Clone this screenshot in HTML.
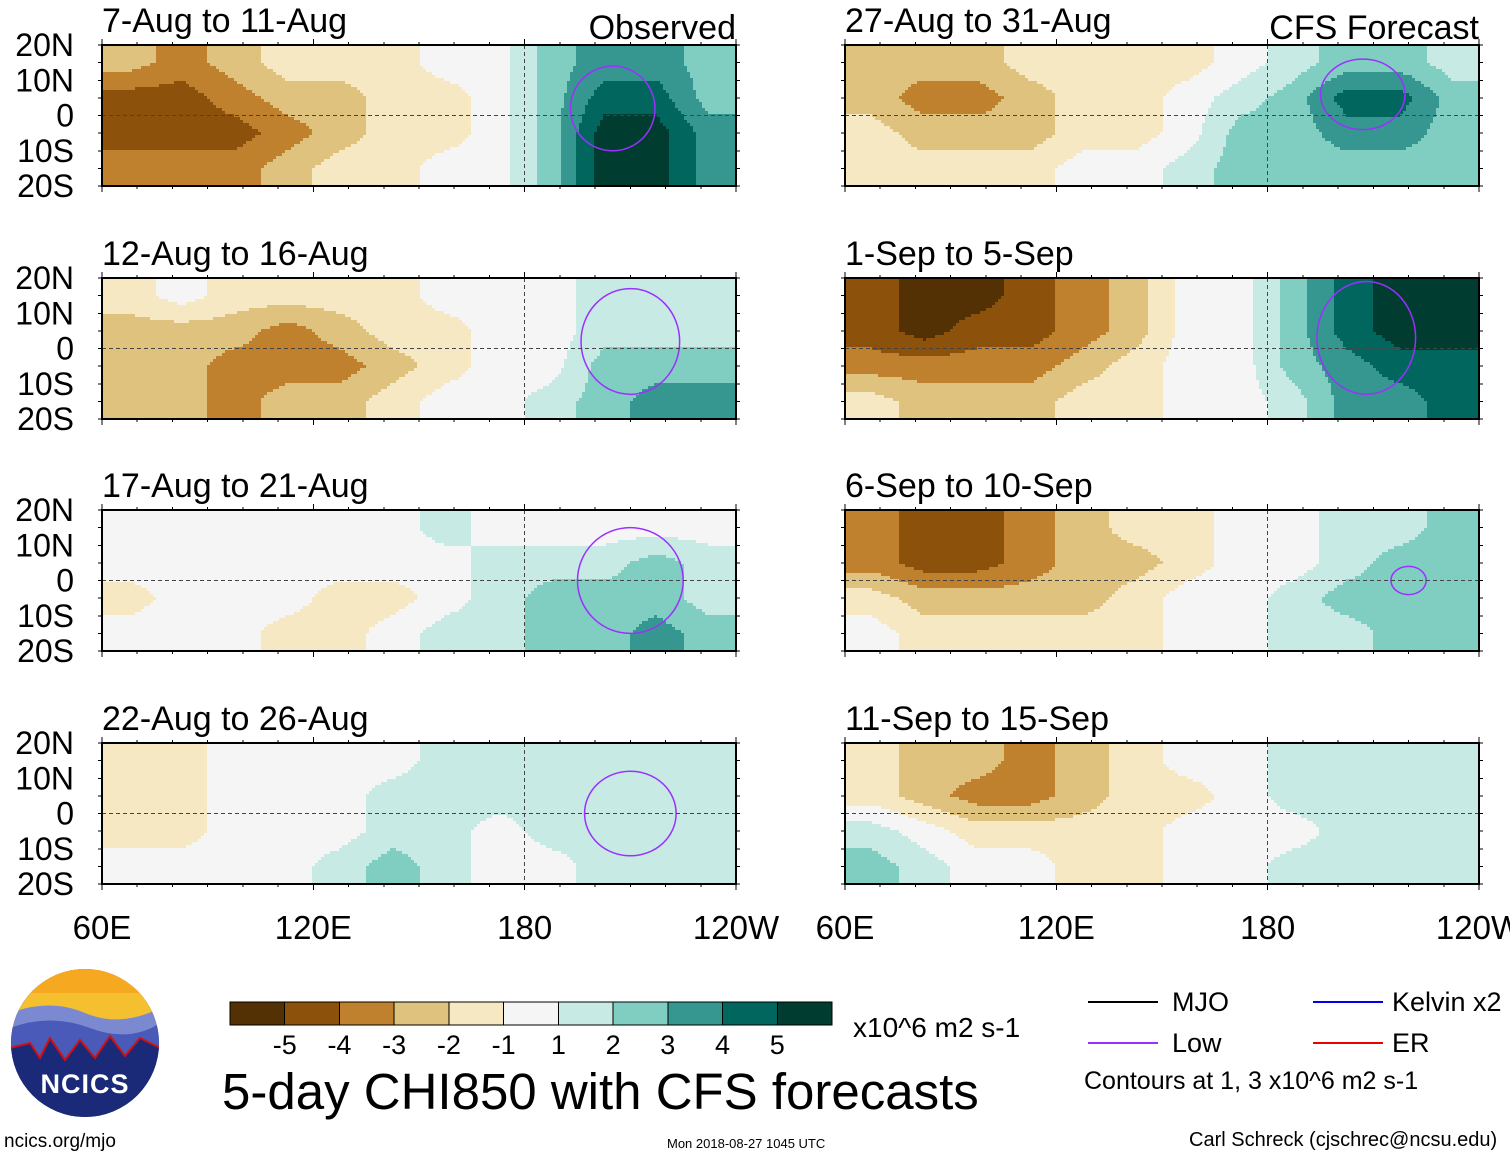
<!DOCTYPE html>
<html><head><meta charset="utf-8"><style>
html,body{margin:0;padding:0;background:#fff;}
svg{display:block;font-family:"Liberation Sans",sans-serif;}
</style></head><body>
<svg id="s" width="1510" height="1158" viewBox="0 0 1510 1158" shape-rendering="crispEdges">
</svg>
<script>
const titles=["7-Aug to 11-Aug","12-Aug to 16-Aug","17-Aug to 21-Aug","22-Aug to 26-Aug","27-Aug to 31-Aug","1-Sep to 5-Sep","6-Sep to 10-Sep","11-Sep to 15-Sep"];
const levels=[-5,-4,-3,-2,-1,0,1,2,3,4,5];
const levelLabels=["-5","-4","-3","-2","-1","1","2","3","4","5"];
const latLabels=["20N","10N","0","10S","20S"];
const lonLabels=["60E","120E","180","120W"];
// each panel: 4 lat bands (20N..20S) x 12 lon bands (15 deg from 60E)
const p0=[[-2,-3,-2,-1,-1,-1,0,0,2,3,3,2],[-4,-4,-3,-2,-2,-1,-1,0,2,4,4,2],[-4,-4,-4,-3,-2,-1,-1,0,2,5,5,3],[-3,-3,-3,-2,-1,-1,0,0,2,5,5,3]];
const p1=[[-1,0,-1,-1,-1,-1,0,0,0,1,1,1],[-2,-2,-2,-3,-2,-1,-1,0,0,1,1,1],[-2,-2,-3,-3,-3,-2,-1,0,0,2,2,2],[-2,-2,-3,-2,-2,-1,0,0,1,2,3,3]];
const p2=[[0,0,0,0,0,0,1,0,0,0,0,0],[0,0,0,0,0,0,0,1,1,1,2,1],[-1,0,0,0,-1,-1,0,1,2,2,2,1],[0,0,0,-1,-1,0,1,1,2,2,3,2]];
const p3=[[-1,-1,0,0,0,0,1,1,1,1,1,1],[-1,-1,0,0,0,1,1,1,1,1,1,1],[-1,-1,0,0,0,1,1,0,1,1,1,1],[0,0,0,0,1,2,1,0,0,1,1,1]];
const p4=[[-2,-2,-2,-1,-1,-1,-1,0,1,2,2,1],[-2,-3,-3,-2,-1,-1,0,1,2,4,4,2],[-1,-2,-2,-2,-1,-1,0,2,2,3,3,2],[-1,-1,-1,-1,0,0,1,2,2,2,2,2]];
const p5=[[-4,-5,-5,-4,-3,-2,0,0,2,4,5,5],[-4,-5,-4,-4,-3,-2,0,0,2,4,5,5],[-3,-3,-3,-3,-2,-1,0,0,2,3,4,4],[-1,-2,-2,-2,-1,-1,0,0,1,3,3,4]];
const p6=[[-3,-4,-4,-3,-2,-1,-1,0,0,1,1,2],[-3,-4,-4,-3,-2,-2,-1,0,0,1,2,2],[-1,-2,-2,-2,-2,-1,0,0,1,2,2,2],[0,-1,-1,-1,-1,-1,0,0,1,1,2,2]];
const p7=[[-1,-2,-2,-3,-2,-1,0,0,1,1,1,1],[-1,-2,-3,-3,-2,-1,-1,0,1,1,1,1],[1,0,-1,-1,-1,-1,0,0,0,1,1,1],[2,1,0,0,-1,-1,0,0,1,1,1,1]];
const panels=[p0,p1,p2,p3,p4,p5,p6,p7];
// Low contours: [lonCenter(E), latCenter, lonRadius, latRadius]
const lowContours=[[205,2,12,12],[210,2,14,15],[210,0,15,15],[210,0,13,12],[207,6,12,10],[208,3,14,16],[220,0,5,4],[0,0,0,0]];
const colors=["#543005","#8c510a","#bf812d","#dfc27d","#f6e8c3","#f5f5f5","#c7eae5","#80cdc1","#35978f","#01665e","#003c30"];
const NS="http://www.w3.org/2000/svg";
const svg=document.getElementById('s');
function mk(tag,attrs,parent){const e=document.createElementNS(NS,tag);for(const k in attrs)e.setAttribute(k,attrs[k]);(parent||svg).appendChild(e);return e;}
function idxFor(v){return Math.max(0,Math.min(10,Math.round(v)+5));}
function sample(d,lon,lat){
  let fc=(lon-67.5)/15, fr=(15-lat)/10;
  fc=Math.max(0,Math.min(11,fc)); fr=Math.max(0,Math.min(3,fr));
  const c0=Math.min(10,Math.floor(fc)), r0=Math.min(2,Math.floor(fr));
  const tc=fc-c0, tr=fr-r0;
  const a=d[r0][c0]*(1-tc)+d[r0][c0+1]*tc, b=d[r0+1][c0]*(1-tc)+d[r0+1][c0+1]*tc;
  return a*(1-tr)+b*tr;
}
const colX=[102,845], rowY=[45,278,510,743], PW=634, PH=141, ST=3;
panels.forEach((d,pi)=>{
  const x0=colX[Math.floor(pi/4)], y0=rowY[pi%4];
  const lonX=lon=>x0+(lon-60)/180*PW;
  const latY=lat=>y0+(20-lat)/40*PH;
  const g=mk('g',{});
  
  
  const fg=mk('g',{},g);
  for(let py=0;py<PH;py+=ST){
    const lat=20-(py+ST/2)/PH*40; let start=0, cur=-1;
    const xs=[];for(let px=0;px<PW;px+=ST)xs.push(px);xs.push(PW);
    xs.forEach(px=>{
      const k=px<PW?idxFor(sample(d,60+(px+ST/2)/PW*180,lat)):-2;
      if(k!==cur){
        if(cur>=0){const r=mk('rect',{x:x0+start,y:y0+py,width:px-start,height:Math.min(ST,PH-py),fill:colors[cur]},fg);
          
          }
        start=px;cur=k;
      }
    });
  }
  const lc=lowContours[pi];
  if(lc[2]>0){const el=mk('ellipse',{cx:lonX(lc[0]),cy:latY(lc[1]),rx:lc[2]/180*PW,ry:lc[3]/40*PH,fill:'none',stroke:'#9b30ff','stroke-width':1.5,'shape-rendering':'auto'},fg);
    
    }
  mk('line',{x1:x0,x2:x0+PW,y1:latY(0),y2:latY(0),stroke:'#444','stroke-dasharray':'4,3','stroke-width':1},fg);
  mk('line',{x1:lonX(180),x2:lonX(180),y1:y0,y2:y0+PH,stroke:'#444','stroke-dasharray':'4,3','stroke-width':1},fg);
  mk('rect',{x:x0,y:y0,width:PW,height:PH,fill:'none',stroke:'#000','stroke-width':2},g);
  for(let lon=60;lon<=240;lon+=10){const tx=lonX(lon),L=(lon%60==0)?6:3;
    mk('line',{x1:tx,x2:tx,y1:y0,y2:y0-L,stroke:'#000'},g);mk('line',{x1:tx,x2:tx,y1:y0+PH,y2:y0+PH+L,stroke:'#000'},g);}
  for(let lat=-20;lat<=20;lat+=5){const ty=latY(lat);
    mk('line',{x1:x0,x2:x0-4,y1:ty,y2:ty,stroke:'#000'},g);mk('line',{x1:x0+PW,x2:x0+PW+4,y1:ty,y2:ty,stroke:'#000'},g);}
  const t=mk('text',{x:x0,y:y0-13,'font-size':34},g);t.textContent=titles[pi];
  
  
  if(pi%4==0){const o=mk('text',{x:x0+PW,y:y0-6,'font-size':34,'text-anchor':'end'},g);o.textContent=pi==0?'Observed':'CFS Forecast';
    
    }
  if(pi<4){latLabels.forEach((l,i)=>{const tt=mk('text',{x:74,y:latY(20-i*10)+11,'font-size':32,'text-anchor':'end'},g);tt.textContent=l;
    
    });}
  if(pi%4==3){lonLabels.forEach((l,i)=>{const tt=mk('text',{x:lonX(60+i*60),y:y0+PH+55,'font-size':33,'text-anchor':'middle'},g);tt.textContent=l;
    
    });}
});
const cb=mk('g',{});


const bw=602/11;
colors.forEach((c,i)=>mk('rect',{x:230+i*bw,y:1002,width:bw,height:23,fill:c,stroke:'#000','stroke-width':1},cb));
levelLabels.forEach((l,i)=>{const t=mk('text',{x:230+(i+1)*bw,y:1054,'font-size':27,'text-anchor':'middle'},cb);t.textContent=l;});
</script>
<div style="position:absolute;left:0;top:0;width:1510px;height:1158px;pointer-events:none;font-family:'Liberation Sans',sans-serif;">
<div style="position:absolute;left:853px;top:1012px;font-size:28px;">x10^6 m2 s-1</div>
<div style="position:absolute;left:222px;top:1062px;font-size:51px;">5-day CHI850 with CFS forecasts</div>
<div>
<div style="position:absolute;left:1088px;top:1001px;width:70px;border-top:2px solid #000"></div>
<div style="position:absolute;left:1172px;top:987px;font-size:27px;">MJO</div>
<div style="position:absolute;left:1088px;top:1042px;width:70px;border-top:2px solid #9b30ff"></div>
<div style="position:absolute;left:1172px;top:1028px;font-size:27px;">Low</div>
<div style="position:absolute;left:1313px;top:1001px;width:70px;border-top:2px solid #0000ee"></div>
<div style="position:absolute;left:1392px;top:987px;font-size:27px;">Kelvin x2</div>
<div style="position:absolute;left:1313px;top:1042px;width:70px;border-top:2px solid #ee0000"></div>
<div style="position:absolute;left:1392px;top:1028px;font-size:27px;">ER</div>
<div style="position:absolute;left:1084px;top:1067px;font-size:25px;">Contours at 1, 3 x10^6 m2 s-1</div>
</div>
<div style="position:absolute;left:4px;top:1131px;font-size:19px;">ncics.org/mjo</div>
<div style="position:absolute;left:667px;top:1136px;font-size:13px;">Mon 2018-08-27 1045 UTC</div>
<div style="position:absolute;left:1189px;top:1129px;font-size:20px;white-space:nowrap;">Carl Schreck (cjschrec@ncsu.edu)</div>
<svg style="position:absolute;left:10px;top:968px" width="150" height="150" viewBox="0 0 150 150">
<circle cx="75" cy="75" r="74" fill="#1a2a78"/>
<clipPath id="lc"><circle cx="75" cy="75" r="74"/></clipPath>
<g clip-path="url(#lc)">
<rect x="0" y="0" width="150" height="60" fill="#f4c030"/>
<rect x="0" y="0" width="150" height="25" fill="#f6a821"/>
<path d="M0 45 Q40 30 75 45 T150 40 V90 H0Z" fill="#7b8ad0"/>
<path d="M0 60 Q40 45 80 60 T150 55 V100 H0Z" fill="#4a5ab8"/>
<path d="M0 80 L20 75 L30 90 L40 70 L55 92 L70 72 L85 90 L100 68 L115 88 L130 70 L150 80 V150 H0Z" fill="#1a2a78" stroke="#d01010" stroke-width="2"/>
</g>
<text x="75" y="125" font-size="27" font-weight="bold" fill="#fff" text-anchor="middle" letter-spacing="1">NCICS</text>
</svg>
</div>
</body></html>
